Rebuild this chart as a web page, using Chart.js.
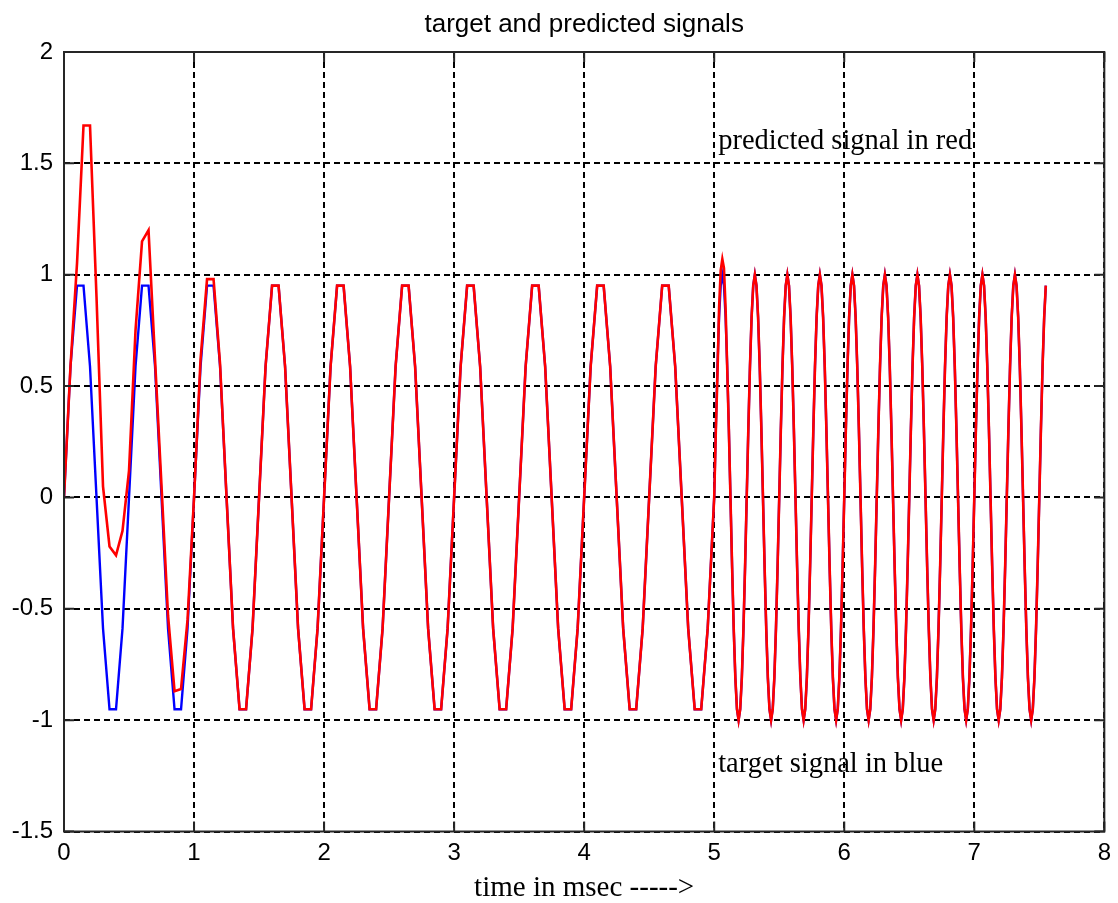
<!DOCTYPE html>
<html>
<head>
<meta charset="utf-8">
<script src="https://cdn.jsdelivr.net/npm/chart.js@4.4.1/dist/chart.umd.min.js"></script>
<style>
  html, body { margin: 0; padding: 0; background: #ffffff; }
  canvas { display: block; }
</style>
</head>
<body>
<canvas id="c" width="1118" height="903"></canvas>
<script>
// ---------------- data ----------------
const chartTitle = 'target and predicted signals';
const xAxisTitle = 'time in msec ----->';
const xTicks = [0, 1, 2, 3, 4, 5, 6, 7, 8];
const xTickLabels = ['0', '1', '2', '3', '4', '5', '6', '7', '8'];
const yTicks = [-1.5, -1, -0.5, 0, 0.5, 1, 1.5, 2];
const yTickLabels = ['-1.5', '-1', '-0.5', '0', '0.5', '1', '1.5', '2'];

// segment 1: 0 .. 5 ms, step 0.05
const time1 = [
  0,0.05,0.1,0.15,0.2,0.25,0.3,0.35,0.4,0.45,
  0.5,0.55,0.6,0.65,0.7,0.75,0.8,0.85,0.9,0.95,
  1,1.05,1.1,1.15,1.2,1.25,1.3,1.35,1.4,1.45,
  1.5,1.55,1.6,1.65,1.7,1.75,1.8,1.85,1.9,1.95,
  2,2.05,2.1,2.15,2.2,2.25,2.3,2.35,2.4,2.45,
  2.5,2.55,2.6,2.65,2.7,2.75,2.8,2.85,2.9,2.95,
  3,3.05,3.1,3.15,3.2,3.25,3.3,3.35,3.4,3.45,
  3.5,3.55,3.6,3.65,3.7,3.75,3.8,3.85,3.9,3.95,
  4,4.05,4.1,4.15,4.2,4.25,4.3,4.35,4.4,4.45,
  4.5,4.55,4.6,4.65,4.7,4.75,4.8,4.85,4.9,4.95,
  5
];
const target1 = [
  0,0.588,0.951,0.951,0.588,0,-0.588,-0.951,-0.951,-0.588,
  0,0.588,0.951,0.951,0.588,0,-0.588,-0.951,-0.951,-0.588,
  0,0.588,0.951,0.951,0.588,0,-0.588,-0.951,-0.951,-0.588,
  0,0.588,0.951,0.951,0.588,0,-0.588,-0.951,-0.951,-0.588,
  0,0.588,0.951,0.951,0.588,0,-0.588,-0.951,-0.951,-0.588,
  0,0.588,0.951,0.951,0.588,0,-0.588,-0.951,-0.951,-0.588,
  0,0.588,0.951,0.951,0.588,0,-0.588,-0.951,-0.951,-0.588,
  0,0.588,0.951,0.951,0.588,0,-0.588,-0.951,-0.951,-0.588,
  0,0.588,0.951,0.951,0.588,0,-0.588,-0.951,-0.951,-0.588,
  0,0.588,0.951,0.951,0.588,0,-0.588,-0.951,-0.951,-0.588,
  0
];
const predicted1 = [
  0,0.59,1.05,1.67,1.67,0.9,0.05,-0.22,-0.26,-0.15,
  0.12,0.75,1.15,1.2,0.62,0.05,-0.53,-0.87,-0.86,-0.55,
  0,0.62,0.98,0.98,0.6,0,-0.588,-0.951,-0.951,-0.588,
  0,0.588,0.951,0.951,0.588,0,-0.588,-0.951,-0.951,-0.588,
  0,0.588,0.951,0.951,0.588,0,-0.588,-0.951,-0.951,-0.588,
  0,0.588,0.951,0.951,0.588,0,-0.588,-0.951,-0.951,-0.588,
  0,0.588,0.951,0.951,0.588,0,-0.588,-0.951,-0.951,-0.588,
  0,0.588,0.951,0.951,0.588,0,-0.588,-0.951,-0.951,-0.588,
  0,0.588,0.951,0.951,0.588,0,-0.588,-0.951,-0.951,-0.588,
  0,0.588,0.951,0.951,0.588,0,-0.588,-0.951,-0.951,-0.588,
  0
];

// segment 2: 5 .. 7.55 ms, step 0.0125
const time2 = [
  5.0125,5.025,5.0375,5.05,5.0625,5.075,5.0875,5.1,5.1125,5.125,5.1375,5.15,5.1625,5.175,5.1875,5.2,5.2125,5.225,5.2375,5.25,
  5.2625,5.275,5.2875,5.3,5.3125,5.325,5.3375,5.35,5.3625,5.375,5.3875,5.4,5.4125,5.425,5.4375,5.45,5.4625,5.475,5.4875,5.5,
  5.5125,5.525,5.5375,5.55,5.5625,5.575,5.5875,5.6,5.6125,5.625,5.6375,5.65,5.6625,5.675,5.6875,5.7,5.7125,5.725,5.7375,5.75,
  5.7625,5.775,5.7875,5.8,5.8125,5.825,5.8375,5.85,5.8625,5.875,5.8875,5.9,5.9125,5.925,5.9375,5.95,5.9625,5.975,5.9875,6,
  6.0125,6.025,6.0375,6.05,6.0625,6.075,6.0875,6.1,6.1125,6.125,6.1375,6.15,6.1625,6.175,6.1875,6.2,6.2125,6.225,6.2375,6.25,
  6.2625,6.275,6.2875,6.3,6.3125,6.325,6.3375,6.35,6.3625,6.375,6.3875,6.4,6.4125,6.425,6.4375,6.45,6.4625,6.475,6.4875,6.5,
  6.5125,6.525,6.5375,6.55,6.5625,6.575,6.5875,6.6,6.6125,6.625,6.6375,6.65,6.6625,6.675,6.6875,6.7,6.7125,6.725,6.7375,6.75,
  6.7625,6.775,6.7875,6.8,6.8125,6.825,6.8375,6.85,6.8625,6.875,6.8875,6.9,6.9125,6.925,6.9375,6.95,6.9625,6.975,6.9875,7,
  7.0125,7.025,7.0375,7.05,7.0625,7.075,7.0875,7.1,7.1125,7.125,7.1375,7.15,7.1625,7.175,7.1875,7.2,7.2125,7.225,7.2375,7.25,
  7.2625,7.275,7.2875,7.3,7.3125,7.325,7.3375,7.35,7.3625,7.375,7.3875,7.4,7.4125,7.425,7.4375,7.45,7.4625,7.475,7.4875,7.5,
  7.5125,7.525,7.5375,7.55
];
const target2 = [
  0.309,0.588,0.809,0.951,1,0.951,0.809,0.588,0.309,0,-0.309,-0.588,-0.809,-0.951,-1,-0.951,-0.809,-0.588,-0.309,0,
  0.309,0.588,0.809,0.951,1,0.951,0.809,0.588,0.309,0,-0.309,-0.588,-0.809,-0.951,-1,-0.951,-0.809,-0.588,-0.309,0,
  0.309,0.588,0.809,0.951,1,0.951,0.809,0.588,0.309,0,-0.309,-0.588,-0.809,-0.951,-1,-0.951,-0.809,-0.588,-0.309,0,
  0.309,0.588,0.809,0.951,1,0.951,0.809,0.588,0.309,0,-0.309,-0.588,-0.809,-0.951,-1,-0.951,-0.809,-0.588,-0.309,0,
  0.309,0.588,0.809,0.951,1,0.951,0.809,0.588,0.309,0,-0.309,-0.588,-0.809,-0.951,-1,-0.951,-0.809,-0.588,-0.309,0,
  0.309,0.588,0.809,0.951,1,0.951,0.809,0.588,0.309,0,-0.309,-0.588,-0.809,-0.951,-1,-0.951,-0.809,-0.588,-0.309,0,
  0.309,0.588,0.809,0.951,1,0.951,0.809,0.588,0.309,0,-0.309,-0.588,-0.809,-0.951,-1,-0.951,-0.809,-0.588,-0.309,0,
  0.309,0.588,0.809,0.951,1,0.951,0.809,0.588,0.309,0,-0.309,-0.588,-0.809,-0.951,-1,-0.951,-0.809,-0.588,-0.309,0,
  0.309,0.588,0.809,0.951,1,0.951,0.809,0.588,0.309,0,-0.309,-0.588,-0.809,-0.951,-1,-0.951,-0.809,-0.588,-0.309,0,
  0.309,0.588,0.809,0.951,1,0.951,0.809,0.588,0.309,0,-0.309,-0.588,-0.809,-0.951,-1,-0.951,-0.809,-0.588,-0.309,0,
  0.309,0.588,0.809,0.951
];
const predicted2 = [
  0.3,0.55,0.85,1.02,1.07,1.03,0.85,0.58,0.309,0,-0.309,-0.588,-0.809,-0.951,-1,-0.951,-0.809,-0.588,-0.309,0,
  0.309,0.588,0.809,0.951,1,0.951,0.809,0.588,0.309,0,-0.309,-0.588,-0.809,-0.951,-1,-0.951,-0.809,-0.588,-0.309,0,
  0.309,0.588,0.809,0.951,1,0.951,0.809,0.588,0.309,0,-0.309,-0.588,-0.809,-0.951,-1,-0.951,-0.809,-0.588,-0.309,0,
  0.309,0.588,0.809,0.951,1,0.951,0.809,0.588,0.309,0,-0.309,-0.588,-0.809,-0.951,-1,-0.951,-0.809,-0.588,-0.309,0,
  0.309,0.588,0.809,0.951,1,0.951,0.809,0.588,0.309,0,-0.309,-0.588,-0.809,-0.951,-1,-0.951,-0.809,-0.588,-0.309,0,
  0.309,0.588,0.809,0.951,1,0.951,0.809,0.588,0.309,0,-0.309,-0.588,-0.809,-0.951,-1,-0.951,-0.809,-0.588,-0.309,0,
  0.309,0.588,0.809,0.951,1,0.951,0.809,0.588,0.309,0,-0.309,-0.588,-0.809,-0.951,-1,-0.951,-0.809,-0.588,-0.309,0,
  0.309,0.588,0.809,0.951,1,0.951,0.809,0.588,0.309,0,-0.309,-0.588,-0.809,-0.951,-1,-0.951,-0.809,-0.588,-0.309,0,
  0.309,0.588,0.809,0.951,1,0.951,0.809,0.588,0.309,0,-0.309,-0.588,-0.809,-0.951,-1,-0.951,-0.809,-0.588,-0.309,0,
  0.309,0.588,0.809,0.951,1,0.951,0.809,0.588,0.309,0,-0.309,-0.588,-0.809,-0.951,-1,-0.951,-0.809,-0.588,-0.309,0,
  0.309,0.588,0.809,0.951
];

const annotationTexts = ['predicted signal in red', 'target signal in blue'];
const annotationAnchors = [[5, 1.6], [5, -1.2]];

// ---------------- build ----------------
const time = time1.concat(time2);
const target = target1.concat(target2);
const predicted = predicted1.concat(predicted2);
const toPoints = (ys) => time.map((t, i) => ({ x: t, y: ys[i] }));

const SANS = "'Liberation Sans', Arial, Helvetica, sans-serif";
const SERIF = "'Liberation Serif', 'Times New Roman', serif";

const framePlugin = {
  id: 'matlabFrame',
  afterDraw(chart) {
    const { ctx, chartArea: a, scales } = chart;
    const xs = scales.x, ys = scales.y;
    ctx.save();
    ctx.strokeStyle = '#262626';
    ctx.lineWidth = 2;
    ctx.setLineDash([]);
    ctx.strokeRect(a.left, a.top, a.right - a.left, a.bottom - a.top);
    const tl = 10;
    ctx.beginPath();
    xTicks.forEach(v => {
      const px = xs.getPixelForValue(v);
      ctx.moveTo(px, a.bottom); ctx.lineTo(px, a.bottom - tl);
      ctx.moveTo(px, a.top); ctx.lineTo(px, a.top + tl);
    });
    yTicks.forEach(v => {
      const py = ys.getPixelForValue(v);
      ctx.moveTo(a.left, py); ctx.lineTo(a.left + tl, py);
      ctx.moveTo(a.right, py); ctx.lineTo(a.right - tl, py);
    });
    ctx.stroke();
    // title, centred over the axes
    ctx.fillStyle = '#000';
    ctx.font = '26px ' + SANS;
    ctx.textAlign = 'center';
    ctx.textBaseline = 'alphabetic';
    ctx.fillText(chartTitle, (a.left + a.right) / 2, 31.5);
    ctx.restore();
  }
};

const textPlugin = {
  id: 'plotText',
  afterDatasetsDraw(chart) {
    const { ctx, scales } = chart;
    ctx.save();
    ctx.fillStyle = '#000';
    ctx.font = '28.5px ' + SERIF;
    ctx.textAlign = 'left';
    ctx.textBaseline = 'middle';
    annotationTexts.forEach((txt, i) => {
      const [vx, vy] = annotationAnchors[i];
      ctx.fillText(txt, scales.x.getPixelForValue(vx) + 4, scales.y.getPixelForValue(vy));
    });
    ctx.restore();
  }
};

new Chart(document.getElementById('c'), {
  type: 'line',
  data: {
    datasets: [
      {
        label: 'predicted',
        data: toPoints(predicted),
        borderColor: '#ff0000',
        borderWidth: 2.6,
        pointRadius: 0,
        tension: 0,
        fill: false,
        order: 0
      },
      {
        label: 'target',
        data: toPoints(target),
        borderColor: '#0000ff',
        borderWidth: 2.4,
        pointRadius: 0,
        tension: 0,
        fill: false,
        order: 1
      }
    ]
  },
  options: {
    responsive: false,
    devicePixelRatio: 1,
    animation: false,
    events: [],
    layout: { padding: { top: 52, right: 7.5, left: 0, bottom: 0 } },
    plugins: {
      legend: { display: false },
      tooltip: { enabled: false },
      title: { display: false }
    },
    scales: {
      x: {
        type: 'linear',
        min: 0, max: 8,
        afterBuildTicks: (s) => { s.ticks = xTicks.map(v => ({ value: v })); },
        afterFit: (s) => { s.height = 71.5; },
        ticks: {
          autoSkip: false,
          maxRotation: 0,
          padding: 7,
          color: '#000',
          font: { family: SANS, size: 24 },
          callback: (v) => xTickLabels[xTicks.indexOf(v)]
        },
        grid: { color: '#000', lineWidth: 2, drawTicks: false },
        border: { display: false, dash: [6, 4] },
        title: {
          display: true,
          text: xAxisTitle,
          color: '#000',
          font: { family: SERIF, size: 29, lineHeight: 1 },
          padding: { top: 0, bottom: 0 }
        }
      },
      y: {
        type: 'linear',
        min: -1.5, max: 2,
        afterBuildTicks: (s) => { s.ticks = yTicks.map(v => ({ value: v })); },
        afterFit: (s) => { s.width = 64; },
        ticks: {
          autoSkip: false,
          padding: 11,
          color: '#000',
          font: { family: SANS, size: 24 },
          callback: (v) => yTickLabels[yTicks.indexOf(v)]
        },
        grid: { color: '#000', lineWidth: 2, drawTicks: false },
        border: { display: false, dash: [6, 4] }
      }
    }
  },
  plugins: [framePlugin, textPlugin]
});
</script>
</body>
</html>
